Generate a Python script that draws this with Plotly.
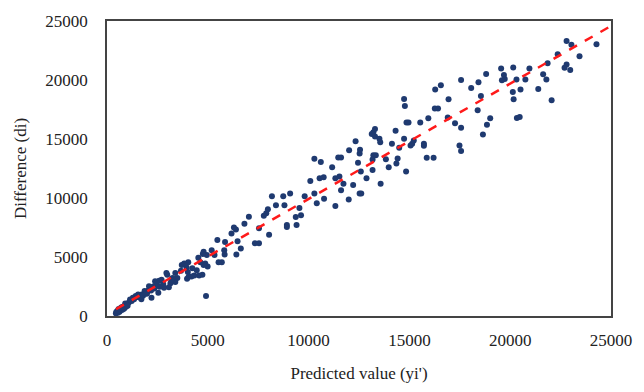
import plotly.graph_objects as go

# Predicted value (yi') and Difference (di)
x_vals = [22797, 23037, 24280, 23438, 22356, 21855, 22797, 22696, 22977, 21634,
          21795, 20953, 20752, 20150, 19549, 19689, 19729, 19590, 20311, 20130,
          20170, 20511, 21393, 22055, 20331, 20471, 18807, 18426, 18065, 17564,
          18547, 18386, 19008, 18847, 18647, 16942, 16561, 16280, 16260, 16420,
          15939, 15538, 16902, 17263, 17564, 17484, 17564, 15859, 16200, 15719,
          15719, 15137, 15217, 14856, 14957, 14736, 14776, 14736, 14836, 14315,
          14134, 14495, 14415, 14355, 13974, 13834, 13513, 13553, 13293, 13212,
          13132, 13293, 13212, 13333, 13172, 13172, 13573, 12872, 12531, 12551,
          12451, 12591, 12331, 12531, 12611, 12210, 12010, 11990, 11729, 11609,
          11469, 11609, 11529, 11328, 11168, 11328, 10767, 10606, 10286, 10546,
          10747, 10406, 10286, 10085, 9805, 9624, 9544, 9083, 8742, 8802,
          8922, 8922, 9403, 9363, 8381, 8181, 7980, 7900, 7779, 8040,
          7539, 7338, 7539, 7038, 6817, 6396, 6296, 6176, 6476, 6637,
          6416, 5815, 5835, 5695, 5534, 5474, 5193, 5333, 4952, 4792,
          4752, 4872, 4992, 4792, 4912, 4531, 4631, 4732, 4571, 4331,
          4451, 4231, 3950, 4030, 3830, 3709, 4010, 3970, 4050, 4190,
          3669, 3388, 3489, 3388, 3248, 2987, 2947, 3148, 3068, 2827,
          2787, 2707, 2587, 2386, 2326, 2546, 2466, 2226, 2206, 2085,
          2045, 1865, 1724, 1704, 1544, 1424, 1283, 1143, 1083, 983,
          902, 782, 702, 581, 521, 461, 622, 742, 862, 1223,
          1584, 1985, 3188, 2607, 5855, 15057, 441, 541, 682, 822,
          943, 1023, 1343, 1484, 1784, 1925, 2185, 2346]
y_vals = [23310, 22977, 23032, 22006, 22172, 21423, 21312, 21035, 20840, 20480,
          20035, 20979, 20035, 21062, 20979, 20424, 20091, 19980, 20035, 18981,
          18370, 19203, 19230, 18287, 16789, 16872, 20507, 19813, 19314, 20008,
          18648, 17427, 16761, 16206, 15373, 18370, 19564, 19203, 17593, 17593,
          16761, 16400, 16816, 16345, 15956, 14458, 13986, 13403, 13403, 14597,
          14430, 14597, 14874, 16400, 16400, 18398, 17788, 15012, 12238, 15706,
          14597, 14264, 13348, 12932, 12599, 13293, 15012, 14735, 15207, 15568,
          15429, 15845, 13625, 13625, 13265, 12377, 11211, 11683, 13764, 14097,
          12987, 12238, 14819, 10379, 10379, 11100, 14042, 9879, 11211, 10656,
          13431, 13431, 11822, 11683, 12599, 9324, 9935, 13043, 13320, 11683,
          11766, 9546, 10379, 11433, 10157, 8547, 9158, 10379, 10157, 9380,
          7715, 7548, 7715, 8381, 9380, 10157, 9047, 8714, 8492, 6882,
          6161, 6161, 7437, 8408, 7826, 7326, 7493, 6993, 6327, 5717,
          5217, 5578, 5217, 4551, 4551, 6438, 5578, 5162, 5162, 5439,
          5245, 4440, 4190, 4329, 1693, 4940, 4551, 3497, 3441, 3441,
          3885, 4052, 4107, 4551, 4440, 4329, 3719, 3164, 3330, 3358,
          3830, 3635, 3219, 2886, 3219, 3497, 3635, 2775, 2442, 2387,
          2720, 3080, 2997, 2942, 2525, 1970, 2803, 2442, 1554, 2525,
          2165, 2109, 1832, 1415, 1832, 1693, 1554, 1388, 1138, 944,
          1054, 777, 722, 583, 444, 333, 361, 500, 666, 1277,
          1582, 1915, 3080, 2470, 6272, 14458, 222, 278, 555, 583,
          777, 860, 1415, 1610, 1721, 1887, 2165, 2331]

# Fitted line end points
line_x = [450, 25000]
line_y = [590, 24580]

tick_vals = [0, 5000, 10000, 15000, 20000, 25000]
tick_text = ["0", "5000", "10000", "15000", "20000", "25000"]

font_family = "Liberation Serif, Times New Roman, serif"

fig = go.Figure()
fig.add_trace(go.Scatter(
    x=x_vals, y=y_vals, mode="markers",
    marker=dict(color="#1f3a70", size=6, line=dict(width=0)),
    showlegend=False,
))
fig.add_trace(go.Scatter(
    x=line_x, y=line_y, mode="lines",
    line=dict(color="#ff1a1a", width=2.5, dash="dash"),
    showlegend=False,
))

axis_common = dict(
    range=[0, 25000],
    tickvals=tick_vals,
    ticktext=tick_text,
    showgrid=False,
    zeroline=False,
    showline=True,
    mirror=True,
    linecolor="#444444",
    linewidth=1.5,
    ticks="",
    tickfont=dict(family=font_family, size=17, color="#222222"),
)

fig.update_layout(
    width=644, height=392,
    margin=dict(l=107, r=24, t=15, b=76),
    paper_bgcolor="white",
    plot_bgcolor="white",
    xaxis=dict(
        **axis_common,
        ticklabelstandoff=8,
        title=dict(text="Predicted value (yi')", font=dict(family=font_family, size=17, color="#222222"), standoff=18),
    ),
    yaxis=dict(
        **axis_common,
        ticklabelstandoff=14,
        title=dict(text="Difference (di)", font=dict(family=font_family, size=17, color="#222222"), standoff=14),
    ),
)

fig.write_html("out.html")
